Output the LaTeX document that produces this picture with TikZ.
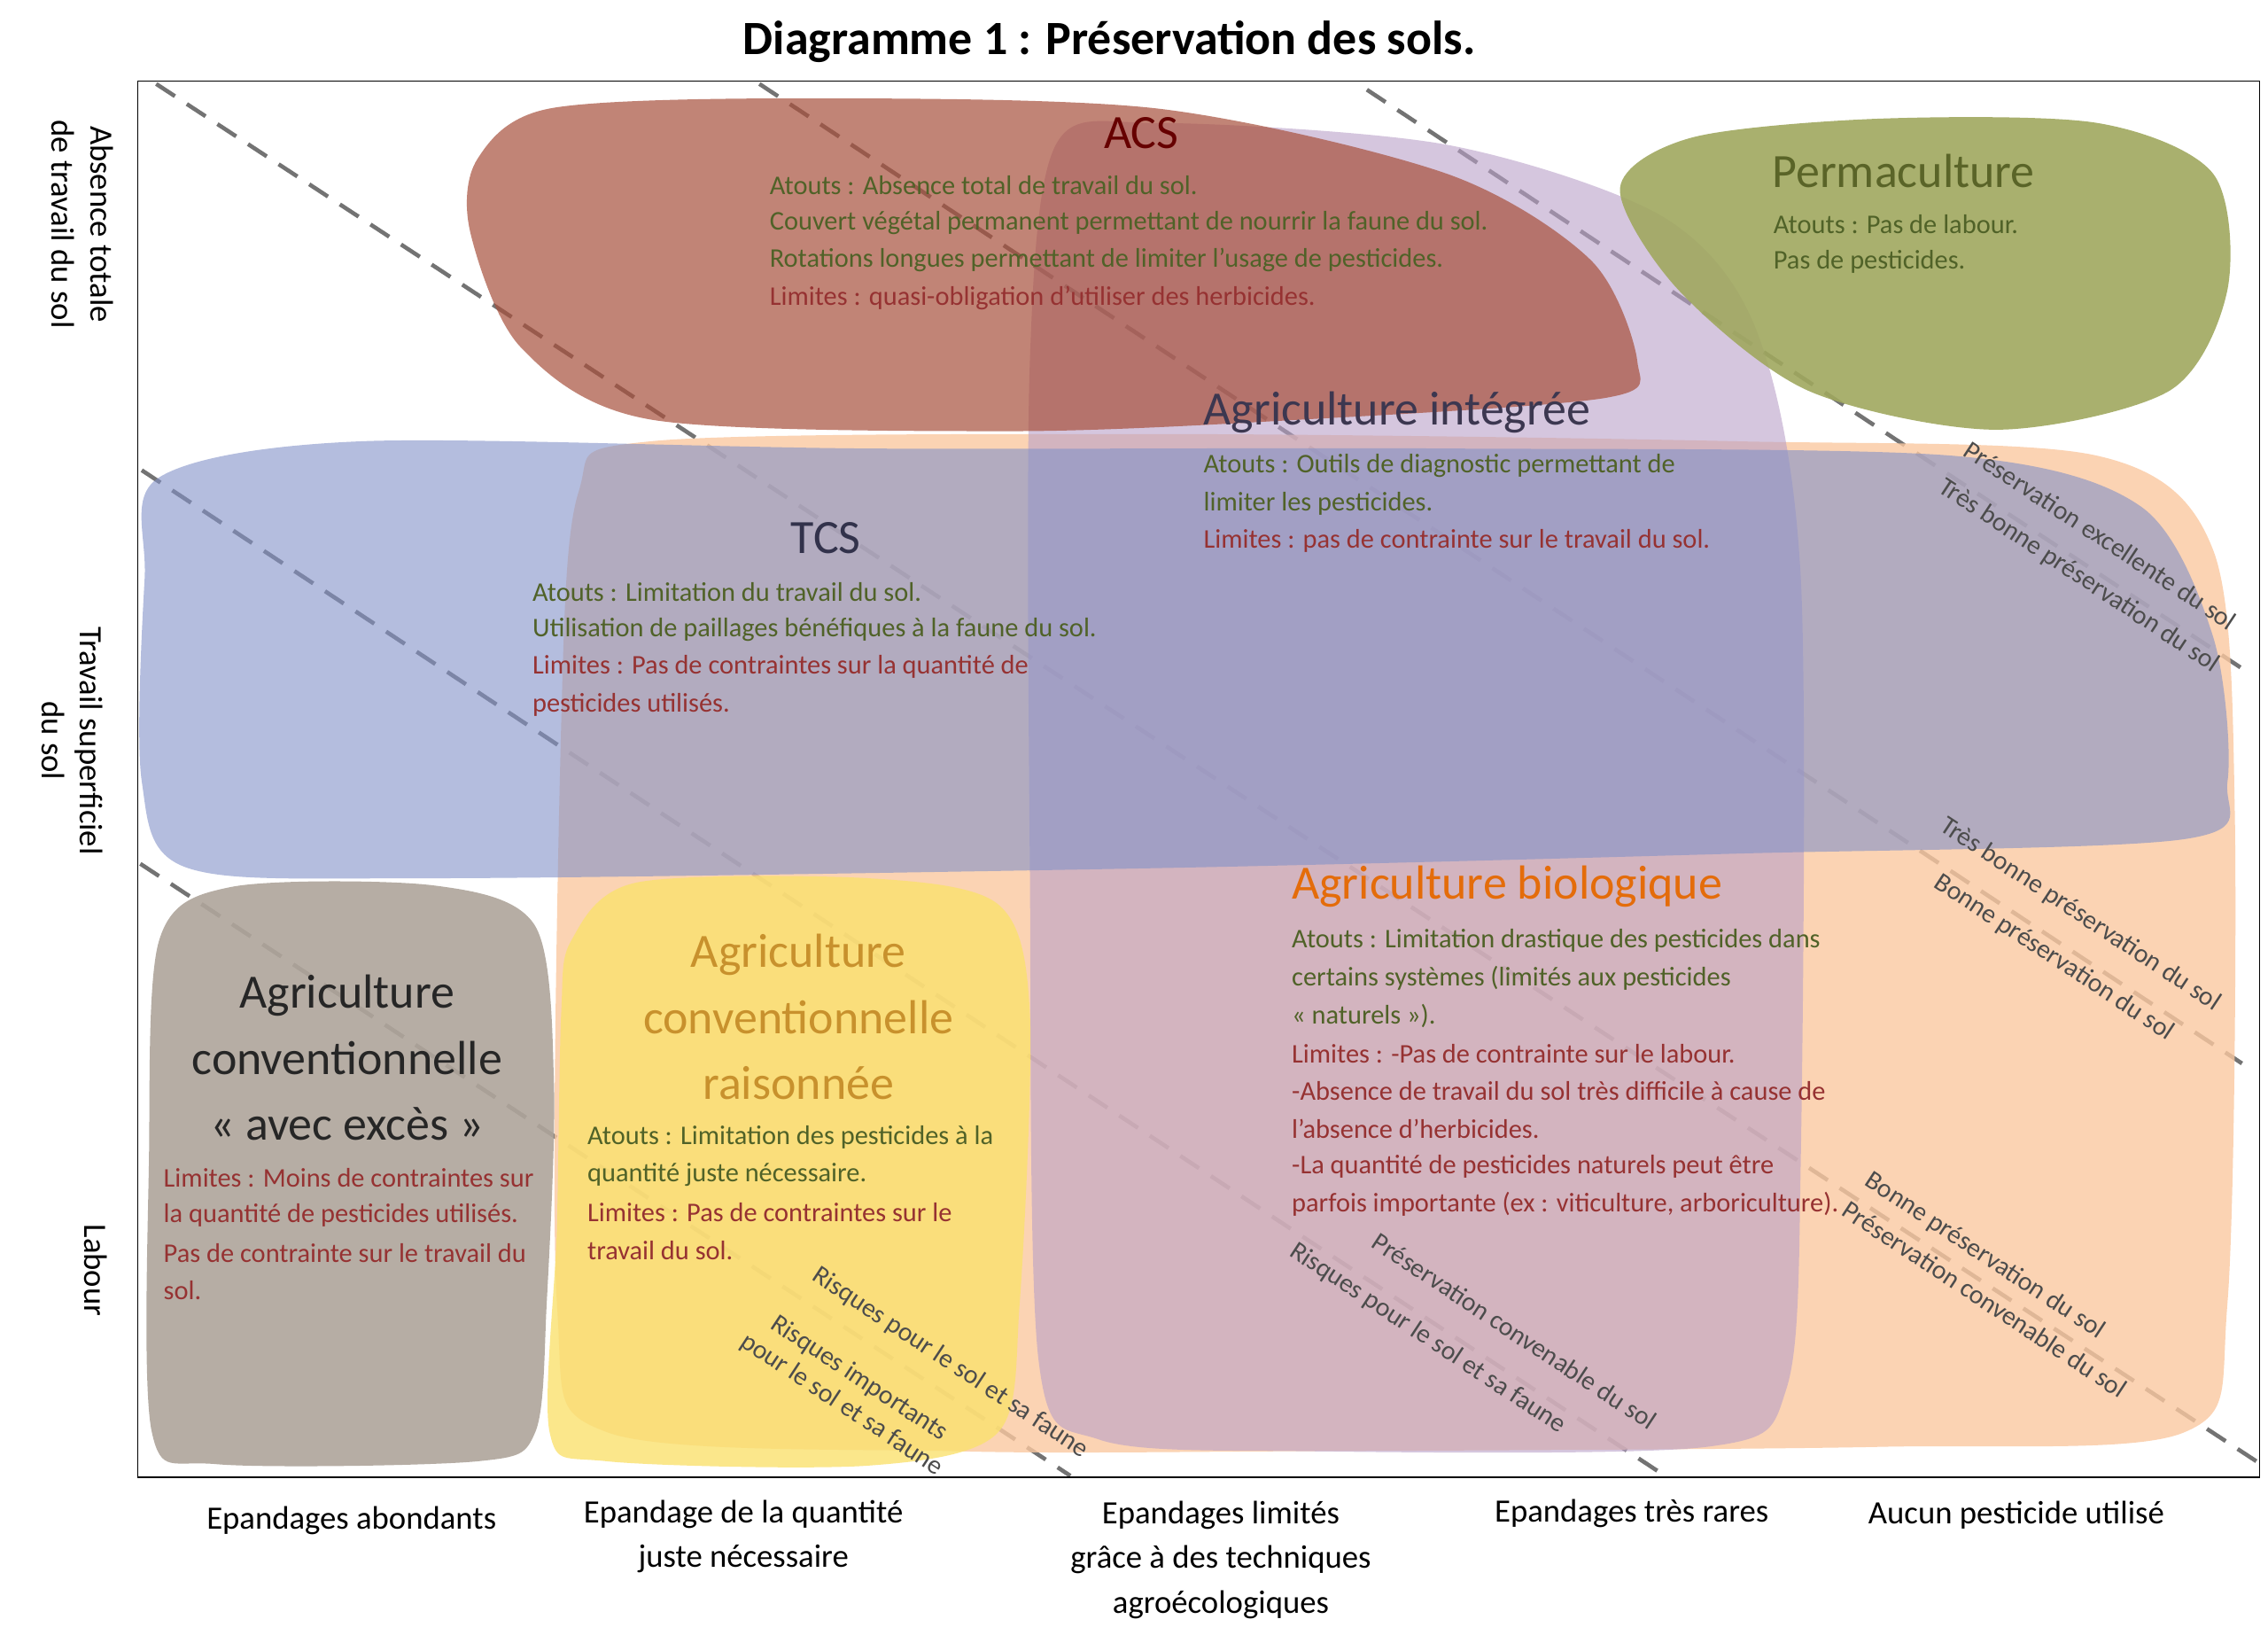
\documentclass[tikz,border=0pt]{standalone}
\usepackage{fontspec}
\setmainfont{Carlito}
\begin{document}
\begin{tikzpicture}[x=0.05cm,y=-0.05cm,
 body/.style={font=\fontsize{26.5}{30}\selectfont,anchor=west,inner sep=0pt},
 gr/.style={body,text={rgb,255:red,80;green,98;blue,40}},
 rd/.style={body,text={rgb,255:red,150;green,50;blue,50}},
 head/.style={font=\fontsize{47}{54}\selectfont,inner sep=0pt},
 dl/.style={draw=black!55,line width=4pt,dash pattern=on 22pt off 14pt},
 lab/.style={font=\fontsize{26}{31}\selectfont,text=black!70,rotate=-33.4,inner sep=0pt,align=center},
 ax/.style={font=\fontsize{32}{38}\selectfont,inner sep=0pt,align=center}]
\useasboundingbox (0,0) rectangle (1568,1130);
\fill[white] (0,0) rectangle (1568,1130);
% dashed lines
\coordinate (l1a) at (108,58); \coordinate (l1b) at (1560,1010);
\coordinate (l2a) at (525,58); \coordinate (l2b) at (1550,735);
\coordinate (l3a) at (945,62); \coordinate (l3b) at (1550,462);
\coordinate (l4a) at (98,325); \coordinate (l4b) at (1151,1020);
\coordinate (l5a) at (97,597); \coordinate (l5b) at (740,1020);
\foreach \l in {1,...,5} \draw[dl] (l\l a) -- (l\l b);
% blobs
\fill[fill={rgb,255:red,251;green,200;blue,160},opacity=0.8] plot[smooth cycle] coordinates {(400,340) (450,305) (800,300) (1200,305) (1450,315) (1530,380) (1545,560) (1540,900) (1510,990) (1300,1000) (900,1003) (660,1003) (420,990) (385,900) (388,500)};
\fill[fill={rgb,255:red,185;green,160;blue,200},opacity=0.6] plot[smooth cycle] coordinates {(730,100) (800,85) (1000,100) (1150,150) (1215,230) (1245,400) (1245,800) (1235,960) (1180,1000) (900,1003) (760,995) (718,940) (712,600) (712,250)};
\fill[fill={rgb,255:red,130;green,145;blue,200},opacity=0.6] plot[smooth cycle] coordinates {(110,330) (250,305) (600,310) (1000,310) (1350,315) (1480,350) (1530,440) (1540,540) (1510,580) (1200,590) (800,600) (300,607) (130,600) (98,540) (100,400)};
\fill[fill={rgb,255:red,168;green,80;blue,60},opacity=0.7] plot[smooth cycle] coordinates {(330,110) (380,75) (550,68) (800,75) (1000,120) (1100,180) (1132,250) (1110,275) (900,290) (700,298) (450,290) (360,240) (325,160)};
\fill[fill={rgb,255:red,250;green,225;blue,110},opacity=0.8] plot[smooth cycle] coordinates {(395,650) (440,610) (600,607) (690,625) (712,700) (705,900) (690,990) (600,1013) (420,1010) (380,990) (385,850) (388,700)};
\fill[fill={rgb,255:red,175;green,165;blue,155},opacity=0.9] plot[smooth cycle] coordinates {(110,650) (160,613) (300,612) (370,640) (383,750) (378,900) (370,990) (330,1010) (150,1012) (105,990) (103,800)};
\fill[fill={rgb,255:red,160;green,168;blue,95},opacity=0.9] plot[smooth cycle] coordinates {(1120,130) (1170,95) (1300,82) (1450,85) (1530,120) (1540,200) (1500,270) (1380,297) (1250,270) (1160,200)};
% frame
\draw[line width=1pt] (95,56) rectangle (1562,1021);
\node[font=\bfseries\fontsize{47}{54}\selectfont] (title) at (767,29) {Diagramme 1 : Préservation des sols.};
% ACS
\node[head,text=red!40!black] (acs) at (789,92) {ACS};
\node[gr] (acs1) at (532,128) {Atouts : Absence total de travail du sol.};
\node[gr] (acs2) at (532,154) {Couvert végétal permanent permettant de nourrir la faune du sol.};
\node[gr] (acs3) at (532,180) {Rotations longues permettant de limiter l’usage de pesticides.};
\node[rd] (acs4) at (532,206) {Limites : quasi-obligation d’utiliser des herbicides.};
% Permaculture
\node[head,text={rgb,255:red,90;green,100;blue,40}] (perm) at (1316,118) {Permaculture};
\node[gr] (p1) at (1226,155) {Atouts : Pas de labour.};
\node[gr] (p2) at (1226,181) {Pas de pesticides.};
% Integree
\node[head,anchor=west,text={rgb,255:red,60;green,55;blue,80}] (ai) at (832,285) {Agriculture intégrée};
\node[gr] (ai1) at (832,322) {Atouts : Outils de diagnostic permettant de};
\node[gr] (ai2) at (832,348) {limiter les pesticides.};
\node[rd] (ai3) at (832,374) {Limites : pas de contrainte sur le travail du sol.};
% TCS
\node[head,text={rgb,255:red,50;green,50;blue,75}] (tcs) at (571,372) {TCS};
\node[gr] (t1) at (368,409) {Atouts : Limitation du travail du sol.};
\node[gr] (t2) at (368,435) {Utilisation de paillages bénéfiques à la faune du sol.};
\node[rd] (t3) at (368,461) {Limites : Pas de contraintes sur la quantité de};
\node[rd] (t4) at (368,487) {pesticides utilisés.};
% Bio
\node[head,anchor=west,text={rgb,255:red,228;green,108;blue,10}] (bio) at (893,613) {Agriculture biologique};
\node[gr] (b1) at (893,650) {Atouts : Limitation drastique des pesticides dans};
\node[gr] (b2) at (893,676) {certains systèmes (limités aux pesticides};
\node[gr] (b3) at (893,702) {« naturels »).};
\node[rd] (b4) at (893,728) {Limites : -Pas de contrainte sur le labour.};
\node[rd] (b5) at (893,754) {-Absence de travail du sol très difficile à cause de};
\node[rd] (b6) at (893,780) {l’absence d’herbicides.};
\node[rd] (b7) at (893,806) {-La quantité de pesticides naturels peut être};
\node[rd] (b8) at (893,832) {parfois importante (ex : viticulture, arboriculture).};
% Raisonnee
\node[head,text={rgb,255:red,200;green,145;blue,45},align=center,font=\fontsize{47}{65}\selectfont] (cr) at (552,703) {Agriculture\\conventionnelle\\raisonnée};
\node[gr] (r1) at (406,786) {Atouts : Limitation des pesticides à la};
\node[gr] (r2) at (406,812) {quantité juste nécessaire.};
\node[rd] (r3) at (406,838) {Limites : Pas de contraintes sur le};
\node[rd] (r4) at (406,864) {travail du sol.};
% Exces
\node[head,text=black!85,align=center,font=\fontsize{47}{65}\selectfont] (ce) at (240,731) {Agriculture\\conventionnelle\\« avec excès »};
\node[rd] (e1) at (113,814) {Limites : Moins de contraintes sur};
\node[rd] (e2) at (113,840) {la quantité de pesticides utilisés.};
\node[rd] (e3) at (113,866) {Pas de contrainte sur le travail du};
\node[rd] (e4) at (113,892) {sol.};
% line labels
\node[lab] (la1) at (1452,370) {Préservation excellente du sol};
\node[lab] (la2) at (1437,398) {Très bonne préservation du sol};
\node[lab] (la3) at (1438,632) {Très bonne préservation du sol};
\node[lab] (la4) at (1420,662) {Bonne préservation du sol};
\node[lab] (la5) at (1372,868) {Bonne préservation du sol};
\node[lab] (la6) at (1372,898) {Préservation convenable du sol};
\node[lab] (la7) at (1047,920) {Préservation convenable du sol};
\node[lab] (la8) at (987,925) {Risques pour le sol et sa faune};
\node[lab] (la9) at (657,942) {Risques pour le sol et sa faune};
\node[lab] (la10) at (588,962) {Risques importants\\pour le sol et sa faune};
% axes
\node[ax,rotate=-90] (y1) at (57,155) {Absence totale\\de travail du sol};
\node[ax,rotate=-90] (y2) at (50,512) {Travail superficiel\\du sol};
\node[ax,rotate=-90] (y3) at (66,878) {Labour};
\node[ax] (x1) at (243,1051) {Epandages abondants};
\node[ax,font=\fontsize{32}{44}\selectfont] (x2) at (514,1062) {Epandage de la quantité\\juste nécessaire};
\node[ax,font=\fontsize{32}{44}\selectfont] (x3) at (844,1078) {Epandages limités\\grâce à des techniques\\agroécologiques};
\node[ax] (x4) at (1128,1046) {Epandages très rares};
\node[ax] (x5) at (1394,1047) {Aucun pesticide utilisé};
\end{tikzpicture}
\end{document}
